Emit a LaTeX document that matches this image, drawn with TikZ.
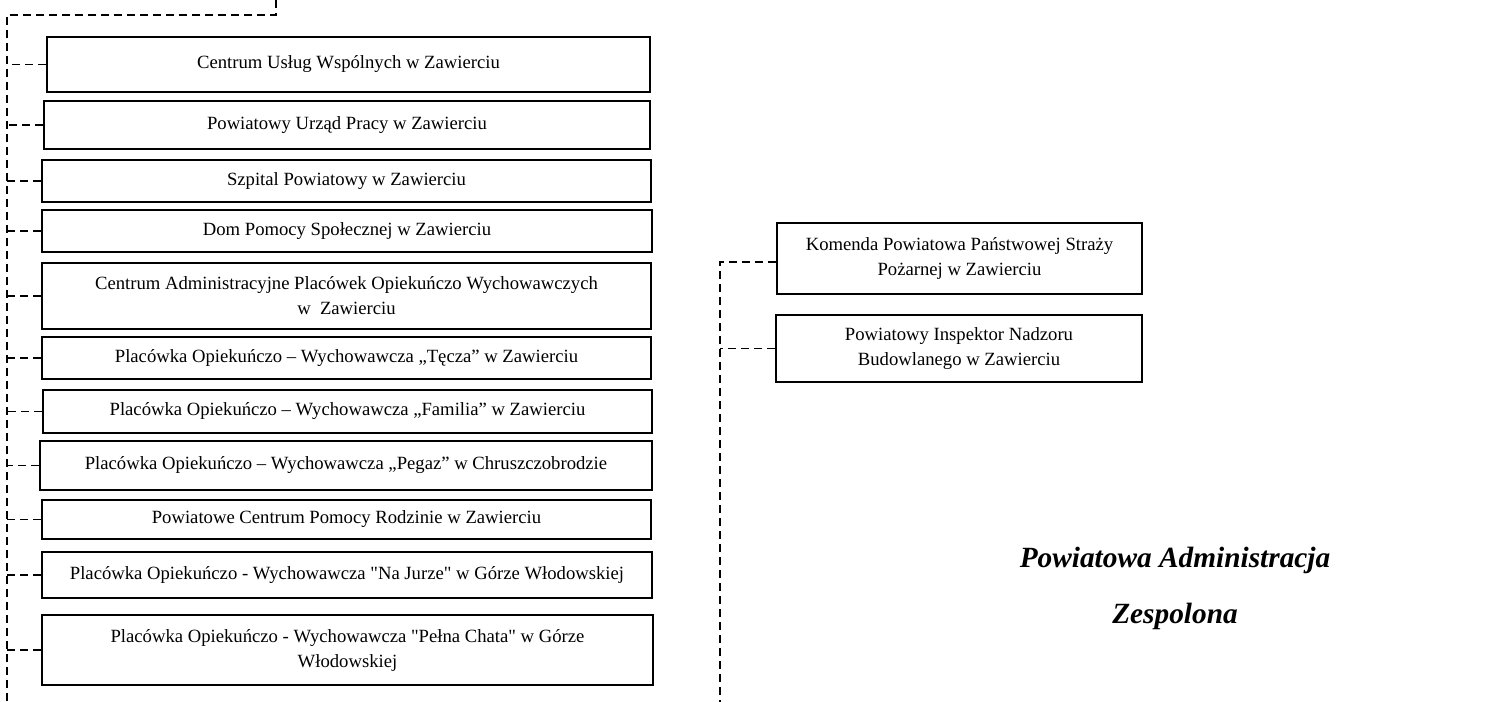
\documentclass[tikz,border=0pt]{standalone}
\usepackage{fontspec}
\setmainfont{Liberation Serif}[Ligatures=TeXOff]
\def\px{*0.75pt}
\tikzstyle{unit}=[draw,line width=2pt,align=center,inner sep=0pt,font=\fontsize{14}{18.75}\selectfont]
\tikzstyle{link}=[line width=1pt,dash pattern=on 6pt off 3.75pt]

\begin{document}
\begin{tikzpicture}[x=0.75pt,y=-0.75pt]
\useasboundingbox (0,0) rectangle (1497,702);
  \node[unit,minimum width=603\px,minimum height=55\px] (u1) at (348.5,64.5) {Centrum Usług Wspólnych w Zawierciu};
  \node[unit,minimum width=606\px,minimum height=48\px] (u2) at (347,125) {Powiatowy Urząd Pracy w Zawierciu};
  \node[unit,minimum width=609\px,minimum height=42\px] (u3) at (346.5,181) {Szpital Powiatowy w Zawierciu};
  \node[unit,minimum width=610\px,minimum height=42\px] (u4) at (347,231) {Dom Pomocy Społecznej w Zawierciu};
  \node[unit,minimum width=609\px,minimum height=66\px] (u5) at (346.5,296) {Centrum Administracyjne Placówek Opiekuńczo Wychowawczych\\w\ \ Zawierciu};
  \node[unit,minimum width=609\px,minimum height=42\px] (u6) at (346.5,358) {Placówka Opiekuńczo – Wychowawcza „Tęcza” w Zawierciu};
  \node[unit,minimum width=609\px,minimum height=43\px] (u7) at (347.5,411.5) {Placówka Opiekuńczo – Wychowawcza „Familia” w Zawierciu};
  \node[unit,minimum width=612\px,minimum height=49\px] (u8) at (346,465.5) {Placówka Opiekuńczo – Wychowawcza „Pegaz” w Chruszczobrodzie};
  \node[unit,minimum width=609\px,minimum height=39\px] (u9) at (346.5,519.5) {Powiatowe Centrum Pomocy Rodzinie w Zawierciu};
  \node[unit,minimum width=610\px,minimum height=46\px] (u10) at (347,575) {Placówka Opiekuńczo - Wychowawcza "Na Jurze" w Górze Włodowskiej};
  \node[unit,minimum width=611\px,minimum height=70\px] (u11) at (347.5,650) {Placówka Opiekuńczo - Wychowawcza "Pełna Chata" w Górze\\Włodowskiej};
  \node[unit,minimum width=365\px,minimum height=71\px] (kp) at (959.5,258.5) {Komenda Powiatowa Państwowej Straży\\Pożarnej w Zawierciu};
  \node[unit,minimum width=366\px,minimum height=67\px] (nb) at (959,348.5) {Powiatowy Inspektor Nadzoru\\Budowlanego w Zawierciu};
  \node[font=\bfseries\itshape\fontsize{22}{26}\selectfont] (t1) at (1175,560) {Powiatowa Administracja};
  \node[font=\bfseries\itshape\fontsize{22}{26}\selectfont] (t2) at (1175,616) {Zespolona};
\coordinate (top) at (276,0);
\coordinate (knee) at (276,15);
\coordinate (lbus) at (7,15);
\coordinate (lend) at (7,702);
\coordinate (rbus) at (720,262);
\coordinate (rend) at (720,702);
\draw[link] (top) -- (knee) -- (lbus) -- (lend);
\foreach \n in {u1,u2,u3,u4,u5,u6,u7,u8,u9,u10,u11}
  \draw[link] (\n.west) -- (\n.west -| lbus);
\draw[link] (kp.west |- rbus) -- (rbus) -- (rend);
\draw[link] (nb.west) -- (nb.west -| rbus);
\end{tikzpicture}
\end{document}
